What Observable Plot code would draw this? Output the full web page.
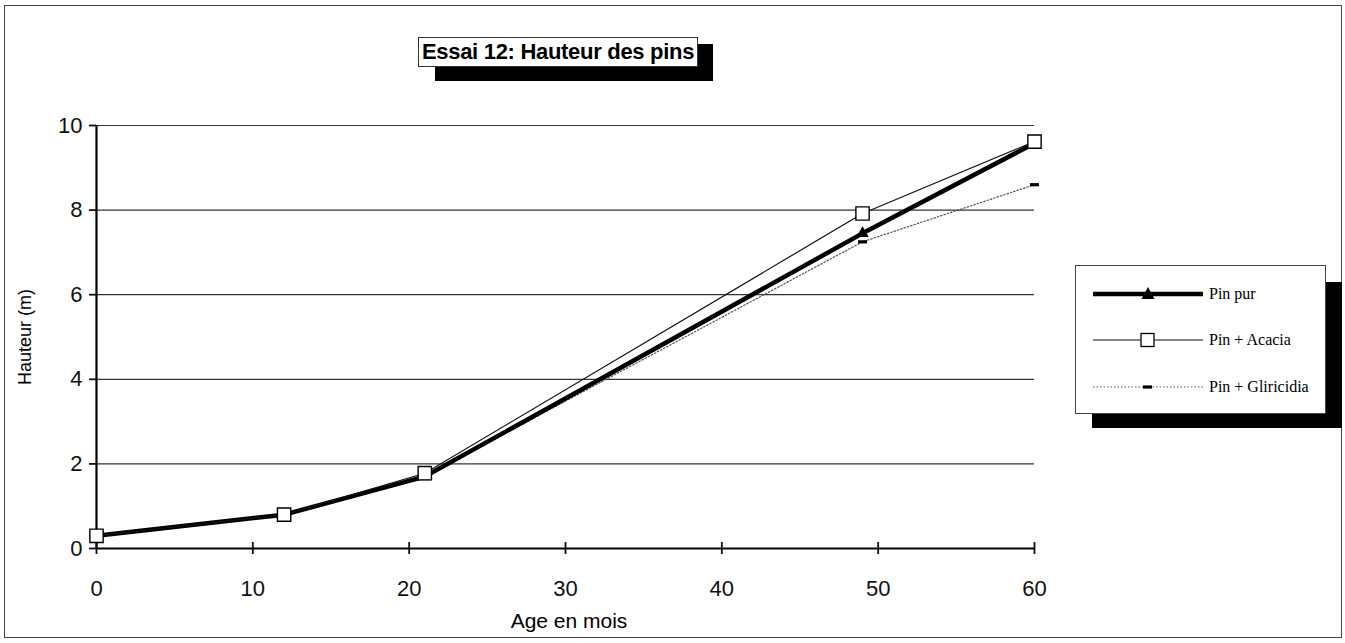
<!DOCTYPE html>
<html>
<head>
<meta charset="utf-8">
<script src="https://cdn.jsdelivr.net/npm/d3@7"></script>
<script src="https://cdn.jsdelivr.net/npm/@observablehq/plot@0.6"></script>
<style>
  body { margin: 0; background: #fff; }
  #wrap { position: relative; width: 1345px; height: 643px; background: #fff; overflow: hidden; font-family: "Liberation Sans", Arial, sans-serif; }
  #chart { position: absolute; left: 0; top: 0; }
  .abs { position: absolute; }
</style>
</head>
<body>
<div id="wrap">
  <div class="abs" style="left:4px;top:5px;width:1336px;height:631px;border:1px solid #444;"></div>
  <div id="chart"></div>
  <div class="abs" style="left:435px;top:44px;width:278px;height:37px;background:#000;"></div>
  <div class="abs" id="title" style="left:418px;top:37px;width:278px;height:28px;background:#fff;border:1px solid #333;font-weight:bold;font-size:22px;letter-spacing:-0.3px;line-height:28px;text-align:center;white-space:nowrap;"></div>
  <div class="abs" id="xlabel" style="left:369px;top:608px;width:400px;text-align:center;font-size:21px;line-height:26px;"></div>
  <div class="abs" id="ylabel" style="left:25px;top:337px;transform:translate(-50%,-50%) rotate(-90deg);font-size:18px;white-space:nowrap;"></div>
  <div class="abs" style="left:1092px;top:282px;width:250px;height:146px;background:#000;"></div>
  <div class="abs" id="legend" style="left:1075px;top:265px;width:249px;height:147px;background:#fff;border:1px solid #444;"></div>
</div>
<script>
// ---- data ----
const ages = [0, 12, 21, 49, 60];
const pinPur = [0.3, 0.8, 1.7, 7.45, 9.58];
const pinAcacia = [0.3, 0.8, 1.78, 7.92, 9.62];
const pinGliricidia = [0.3, 0.8, 1.7, 7.25, 8.6];
const seriesNames = ["Pin pur", "Pin + Acacia", "Pin + Gliricidia"];
const xTicks = [0, 10, 20, 30, 40, 50, 60];
const yTicks = [0, 2, 4, 6, 8, 10];
const titleText = "Essai 12: Hauteur des pins";
const xLabel = "Age en mois";
const yLabel = "Hauteur (m)";

const mk = (vals) => ages.map((a, i) => ({age: a, h: vals[i]}));
const dPur = mk(pinPur), dAcacia = mk(pinAcacia), dGlir = mk(pinGliricidia);

const dash = {draw(ctx) { ctx.moveTo(-4.5, -1.6); ctx.lineTo(4.5, -1.6); ctx.lineTo(4.5, 1.6); ctx.lineTo(-4.5, 1.6); ctx.closePath(); }};

const chart = Plot.plot({
  width: 1345, height: 643,
  marginLeft: 96, marginRight: 311, marginTop: 125, marginBottom: 95,
  style: {fontFamily: "'Liberation Sans', Arial, sans-serif", background: "transparent", color: "#111"},
  x: {domain: [0, 60]},
  y: {domain: [0, 10]},
  marks: [
    Plot.ruleY(yTicks.filter(v => v > 0), {stroke: "#333", strokeWidth: 1.2}),
    Plot.ruleY([0], {stroke: "#000", strokeWidth: 2.2}),
    Plot.ruleX([0], {stroke: "#000", strokeWidth: 2.2}),
    Plot.axisY({ticks: yTicks, tickSize: 7, tickPadding: 7, fontSize: 22, label: null, strokeWidth: 1.8}),
    Plot.axisX({ticks: xTicks, tickSize: 12, tickPadding: 26, dy: -6, fontSize: 22, label: null, strokeWidth: 1.8}),
    Plot.line(dGlir, {x: "age", y: "h", stroke: "#555", strokeWidth: 1.2, strokeDasharray: "1.5,2"}),
    Plot.line(dPur, {x: "age", y: "h", stroke: "#000", strokeWidth: 4.5}),
    Plot.line(dAcacia, {x: "age", y: "h", stroke: "#111", strokeWidth: 1.2}),
    Plot.dot(dGlir, {x: "age", y: "h", symbol: dash, fill: "#000", stroke: "none", r: 3}),
    Plot.dot(dPur, {x: "age", y: "h", symbol: "triangle", fill: "#000", stroke: "none", r: 4.6}),
    Plot.dot(dAcacia, {x: "age", y: "h", symbol: "square", fill: "#fff", stroke: "#000", strokeWidth: 1.4, r: 7.5})
  ]
});
document.getElementById("chart").appendChild(chart);

document.getElementById("title").textContent = titleText;
document.getElementById("xlabel").textContent = xLabel;
document.getElementById("ylabel").textContent = yLabel;

// legend
const legend = document.getElementById("legend");
const rowsY = [28, 74, 121];
const symSvg = [
  `<line x1="0" y1="8" x2="110" y2="8" stroke="#000" stroke-width="4.5"/><path d="M55,1 L61.5,13 L48.5,13 Z" fill="#000"/>`,
  `<line x1="0" y1="8" x2="110" y2="8" stroke="#111" stroke-width="1"/><rect x="48" y="1.5" width="13" height="13" fill="#fff" stroke="#000" stroke-width="1.3"/>`,
  `<line x1="0" y1="8" x2="110" y2="8" stroke="#555" stroke-width="1" stroke-dasharray="1.5,2"/><rect x="50" y="6.4" width="9" height="3.2" fill="#000"/>`
];
seriesNames.forEach((name, i) => {
  const row = document.createElement("div");
  row.style.cssText = `position:absolute;left:17px;top:${rowsY[i] - 8}px;height:16px;display:flex;align-items:center;white-space:nowrap;`;
  row.innerHTML = `<svg width="112" height="16" style="display:block">${symSvg[i]}</svg><span style="margin-left:4px;font-family:'Liberation Serif','Times New Roman',serif;font-size:16px;line-height:16px;">${name}</span>`;
  legend.appendChild(row);
});
</script>
</body>
</html>
